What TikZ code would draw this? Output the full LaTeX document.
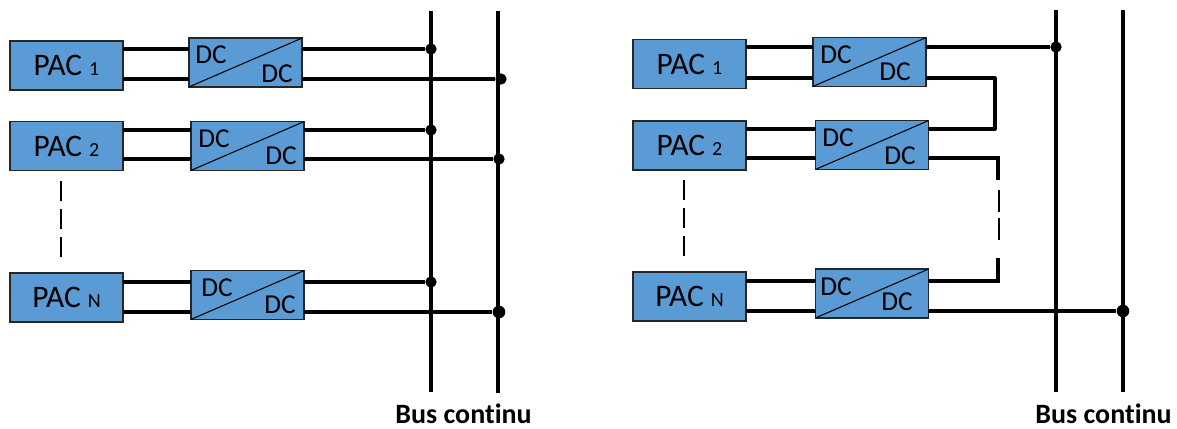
\documentclass[tikz,border=0pt]{standalone}
\usepackage{fontspec}
\setmainfont[Ligatures=NoCommon]{Carlito}
\tikzset{
	pacbox/.style={draw=black!85,line width=1.1pt,fill=dcblue,minimum width=84.5pt,minimum height=36.5pt,inner sep=0pt,outer sep=0pt,font=\fontsize{23.5}{28}\selectfont},
	dcbox/.style={draw=black!85,line width=1.1pt,fill=dcblue,minimum width=84.5pt,minimum height=36.5pt,inner sep=0pt,outer sep=0pt},
	dctext/.style={inner sep=0pt,font=\fontsize{20.5}{24}\selectfont},
	wire/.style={line width=2.5pt},
	thinwire/.style={line width=2.3pt},
	bus/.style={line width=2.8pt},
	dashwire/.style={line width=1.5pt},
	joint/.style={circle,fill=black,inner sep=0pt,minimum size=8.5pt},
	bigjoint/.style={circle,fill=black,inner sep=0pt,minimum size=9.5pt},
	buslabel/.style={inner sep=0pt,font=\fontsize{21}{24}\selectfont\bfseries}
}
\definecolor{dcblue}{HTML}{5B9BD5}
\newcommand{\pacname}[1]{PAC {\fontsize{15}{18}\selectfont #1}}
\begin{document}
\begin{tikzpicture}[x=0.75pt,y=-0.75pt]
	\useasboundingbox (0,0) rectangle (1177,428);
	% left side, all in parallel
	\coordinate (lbusatop) at (431,11);
	\coordinate (lbusabot) at (431,392);
	\coordinate (lbusbtop) at (498,11);
	\coordinate (lbusbbot) at (498,393);
	\coordinate (ldashtop) at (61,181);
	\coordinate (ldashbot) at (61,259);
	\draw[bus] (lbusatop) -- (lbusabot);
	\draw[bus] (lbusbtop) -- (lbusbbot);
	\node[pacbox] (lpac1) at (66.5,65.5) {\pacname{1}};
	\node[pacbox] (lpac2) at (66.5,146) {\pacname{2}};
	\node[pacbox] (lpacn) at (66.5,297.5) {\pacname{N}};
	\node[dcbox] (ldc1) at (245.5,62.5) {};
	\node[dcbox] (ldc2) at (247.5,146) {};
	\node[dcbox] (ldcn) at (247.5,295) {};
	\node[joint] (lj1a) at (431,49) {};
	\node[joint] (lj1b) at (501,79) {};
	\node[joint] (lj2a) at (431,130) {};
	\node[joint] (lj2b) at (499,159) {};
	\node[joint] (ljna) at (431,282) {};
	\node[bigjoint] (ljnb) at (499,312) {};
	\draw[wire] (lpac1.east |- lj1a) -- (ldc1.west |- lj1a);
	\draw[wire] (lpac1.east |- lj1b) -- (ldc1.west |- lj1b);
	\draw[wire] (lpac2.east |- lj2a) -- (ldc2.west |- lj2a);
	\draw[wire] (lpac2.east |- lj2b) -- (ldc2.west |- lj2b);
	\draw[wire] (lpacn.east |- ljna) -- (ldcn.west |- ljna);
	\draw[wire] (lpacn.east |- ljnb) -- (ldcn.west |- ljnb);
	\draw[wire] (ldc1.east |- lj1a) -- (lj1a);
	\draw[wire] (ldc1.east |- lj1b) -- (lj1b);
	\draw[wire] (ldc2.east |- lj2a) -- (lj2a);
	\draw[wire] (ldc2.east |- lj2b) -- (lj2b);
	\draw[wire] (ldcn.east |- ljna) -- (ljna);
	\draw[wire] (ldcn.east |- ljnb) -- (ljnb);
	\draw[thick] (ldc1.south west) -- (ldc1.north east);
	\draw[thick] (ldc2.south west) -- (ldc2.north east);
	\draw[thick] (ldcn.south west) -- (ldcn.north east);
	\node[dctext] (ldc1a) at (211,55) {DC};
	\node[dctext] (ldc1b) at (277,74) {DC};
	\node[dctext] (ldc2a) at (214,139) {DC};
	\node[dctext] (ldc2b) at (281,156) {DC};
	\node[dctext] (ldcna) at (217,288) {DC};
	\node[dctext] (ldcnb) at (280,305) {DC};
	\draw[dashwire,dash pattern=on 15pt off 6pt] (ldashtop) -- (ldashbot);
	\node[buslabel] (llabel) at (463.5,414) {Bus continu};
	% right side, all in series
	\coordinate (rbusatop) at (1056,10);
	\coordinate (rbusabot) at (1056,392);
	\coordinate (rbusbtop) at (1123,10);
	\coordinate (rbusbbot) at (1123,392);
	\coordinate (rdashtop) at (684,180);
	\coordinate (rdashbot) at (684,257);
	\draw[bus] (rbusatop) -- (rbusabot);
	\draw[bus] (rbusbtop) -- (rbusbbot);
	\node[pacbox] (rpac1) at (689.5,64) {\pacname{1}};
	\node[pacbox] (rpac2) at (689.5,145.5) {\pacname{2}};
	\node[pacbox] (rpacn) at (689.5,296.5) {\pacname{N}};
	\node[dcbox] (rdc1) at (869.5,62) {};
	\node[dcbox] (rdc2) at (872,145) {};
	\node[dcbox] (rdcn) at (872,293.5) {};
	\node[joint] (rj1a) at (1056,47) {};
	\node[bigjoint] (rjnb) at (1123,311) {};
	\coordinate (rs1) at (995,78);
	\coordinate (rs2) at (995,129);
	\coordinate (rs3) at (998,158);
	\coordinate (rs4) at (998,180);
	\coordinate (rs5) at (999,190);
	\coordinate (rs6) at (999,240);
	\coordinate (rs7) at (998,258);
	\coordinate (rs8) at (998,281);
	\draw[wire] (rpac1.east |- rj1a) -- (rdc1.west |- rj1a);
	\draw[thinwire] (rpac1.east |- rs1) -- (rdc1.west |- rs1);
	\draw[wire] (rpac2.east |- rs2) -- (rdc2.west |- rs2);
	\draw[wire] (rpac2.east |- rs3) -- (rdc2.west |- rs3);
	\draw[wire] (rpacn.east |- rs8) -- (rdcn.west |- rs8);
	\draw[thinwire] (rpacn.east |- rjnb) -- (rdcn.west |- rjnb);
	\draw[wire] (rdc1.east |- rj1a) -- (rj1a);
	\draw[thinwire,line join=round] (rdc1.east |- rs1) -- (rs1) -- (rs2) -- (rdc2.east |- rs2);
	\draw[thinwire] (rdc2.east |- rs3) -- (rs3) -- (rs4);
	\draw[line width=1.8pt,dash pattern=on 16.5pt off 4.5pt] (rs5) -- (rs6);
	\draw[wire] (rs7) -- (rs8) -- (rdcn.east |- rs8);
	\draw[thinwire] (rdcn.east |- rjnb) -- (rjnb);
	\draw[thick] (rdc1.south west) -- (rdc1.north east);
	\draw[thick] (rdc2.south west) -- (rdc2.north east);
	\draw[thick] (rdcn.south west) -- (rdcn.north east);
	\node[dctext] (rdc1a) at (836,55) {DC};
	\node[dctext] (rdc1b) at (895,72) {DC};
	\node[dctext] (rdc2a) at (838,138) {DC};
	\node[dctext] (rdc2b) at (900,156) {DC};
	\node[dctext] (rdcna) at (836,287) {DC};
	\node[dctext] (rdcnb) at (897,302) {DC};
	\draw[dashwire,dash pattern=on 15pt off 6pt] (rdashtop) -- (rdashbot);
	\node[buslabel] (rlabel) at (1103.5,414) {Bus continu};
\end{tikzpicture}
\end{document}
